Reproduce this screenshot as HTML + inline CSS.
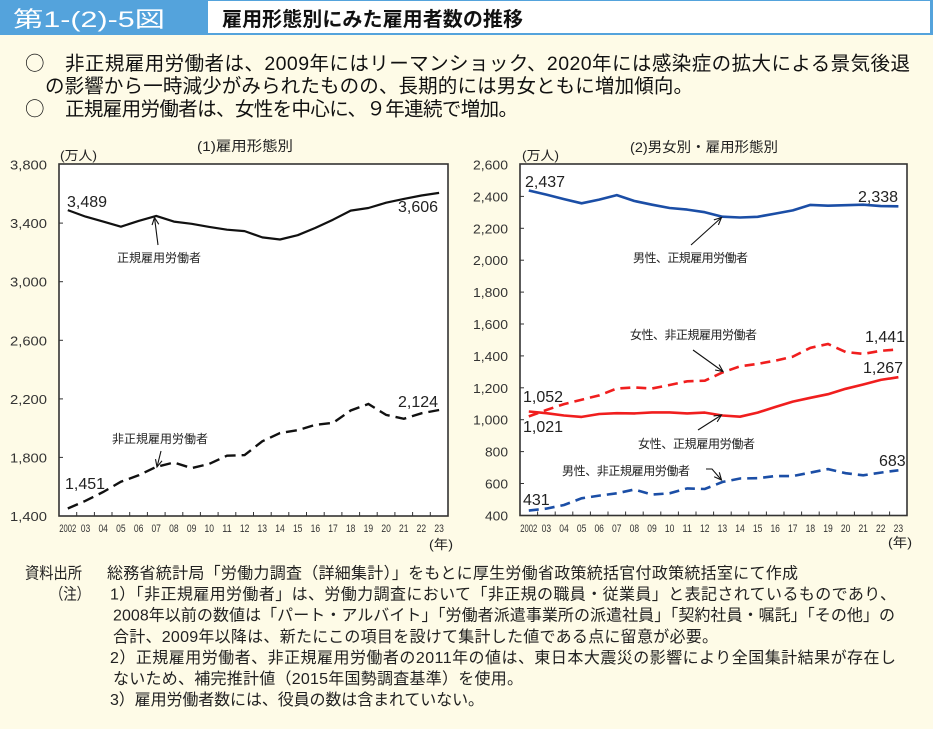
<!DOCTYPE html>
<html><head><meta charset="utf-8"><style>
html,body{margin:0;padding:0;background:#fefbe7;}
svg{display:block;}
text{font-family:"Liberation Sans","Noto Sans CJK JP",sans-serif;}
.yl{font-size:13px;fill:#333;text-anchor:end;}
.xl{font-size:11px;fill:#333;text-anchor:middle;}
.val{font-size:16px;fill:#222;}
.ann{font-size:12px;fill:#222;}
.note{font-size:16px;fill:#222;}
.bul{font-size:19.5px;fill:#111;}
</style></head><body>
<svg width="933" height="729" viewBox="0 0 933 729" xmlns="http://www.w3.org/2000/svg">
<rect x="0" y="0" width="933" height="729" fill="#fefbe7"/>
<!-- header -->
<rect x="0" y="0" width="933" height="35" fill="#54a3dc"/>
<rect x="208" y="1" width="722" height="32" fill="#ffffff"/>
<text x="13" y="27" font-size="22" fill="#ffffff" textLength="152" lengthAdjust="spacingAndGlyphs">第1-(2)-5図</text>
<text x="222" y="26" font-size="20" font-weight="bold" fill="#111" textLength="301" lengthAdjust="spacing">雇用形態別にみた雇用者数の推移</text>

<!-- bullets -->
<text x="25" y="70" class="bul" style="font-family:'Noto Sans CJK JP',sans-serif">○</text>
<text x="65" y="70" class="bul" textLength="845" lengthAdjust="spacing">非正規雇用労働者は、2009年にはリーマンショック、2020年には感染症の拡大による景気後退</text>
<text x="45" y="92.5" class="bul" textLength="648" lengthAdjust="spacing">の影響から一時減少がみられたものの、長期的には男女ともに増加傾向。</text>
<text x="25" y="115.5" class="bul" style="font-family:'Noto Sans CJK JP',sans-serif">○</text>
<text x="65" y="115.5" class="bul" textLength="453" lengthAdjust="spacing">正規雇用労働者は、女性を中心に、９年連続で増加。</text>

<!-- ================= LEFT CHART ================= -->
<text x="197" y="151" font-size="14" fill="#222" textLength="96" lengthAdjust="spacingAndGlyphs">(1)雇用形態別</text>
<text x="60" y="160" font-size="13" fill="#222" textLength="37" lengthAdjust="spacingAndGlyphs">(万人)</text>
<rect x="59" y="164" width="389" height="352" fill="#ffffff" stroke="#333" stroke-width="1.6"/>
<g class="yl">
<text x="47" y="169.5" textLength="37" lengthAdjust="spacingAndGlyphs">3,800</text>
<text x="47" y="228.1" textLength="37" lengthAdjust="spacingAndGlyphs">3,400</text>
<text x="47" y="286.7" textLength="37" lengthAdjust="spacingAndGlyphs">3,000</text>
<text x="47" y="345.3" textLength="37" lengthAdjust="spacingAndGlyphs">2,600</text>
<text x="47" y="403.9" textLength="37" lengthAdjust="spacingAndGlyphs">2,200</text>
<text x="47" y="462.4" textLength="37" lengthAdjust="spacingAndGlyphs">1,800</text>
<text x="47" y="521" textLength="37" lengthAdjust="spacingAndGlyphs">1,400</text>
</g>
<g stroke="#333" stroke-width="1">
<line x1="59" y1="223.1" x2="63" y2="223.1"/><line x1="59" y1="281.7" x2="63" y2="281.7"/>
<line x1="59" y1="340.3" x2="63" y2="340.3"/><line x1="59" y1="398.9" x2="63" y2="398.9"/>
<line x1="59" y1="457.4" x2="63" y2="457.4"/>
<line x1="76.7" y1="516" x2="76.7" y2="512"/><line x1="94.4" y1="516" x2="94.4" y2="512"/>
<line x1="112" y1="516" x2="112" y2="512"/><line x1="129.7" y1="516" x2="129.7" y2="512"/>
<line x1="147.4" y1="516" x2="147.4" y2="512"/><line x1="165.1" y1="516" x2="165.1" y2="512"/>
<line x1="182.8" y1="516" x2="182.8" y2="512"/><line x1="200.4" y1="516" x2="200.4" y2="512"/>
<line x1="218.1" y1="516" x2="218.1" y2="512"/><line x1="235.8" y1="516" x2="235.8" y2="512"/>
<line x1="253.5" y1="516" x2="253.5" y2="512"/><line x1="271.2" y1="516" x2="271.2" y2="512"/>
<line x1="288.8" y1="516" x2="288.8" y2="512"/><line x1="306.5" y1="516" x2="306.5" y2="512"/>
<line x1="324.2" y1="516" x2="324.2" y2="512"/><line x1="341.9" y1="516" x2="341.9" y2="512"/>
<line x1="359.6" y1="516" x2="359.6" y2="512"/><line x1="377.2" y1="516" x2="377.2" y2="512"/>
<line x1="394.9" y1="516" x2="394.9" y2="512"/><line x1="412.6" y1="516" x2="412.6" y2="512"/>
<line x1="430.3" y1="516" x2="430.3" y2="512"/>
</g>
<g class="xl">
<text x="67.8" y="532" textLength="17" lengthAdjust="spacingAndGlyphs">2002</text>
<text x="85.5" y="532" textLength="9.5" lengthAdjust="spacingAndGlyphs">03</text>
<text x="103.2" y="532" textLength="9.5" lengthAdjust="spacingAndGlyphs">04</text>
<text x="120.9" y="532" textLength="9.5" lengthAdjust="spacingAndGlyphs">05</text>
<text x="138.6" y="532" textLength="9.5" lengthAdjust="spacingAndGlyphs">06</text>
<text x="156.2" y="532" textLength="9.5" lengthAdjust="spacingAndGlyphs">07</text>
<text x="173.9" y="532" textLength="9.5" lengthAdjust="spacingAndGlyphs">08</text>
<text x="191.6" y="532" textLength="9.5" lengthAdjust="spacingAndGlyphs">09</text>
<text x="209.3" y="532" textLength="9.5" lengthAdjust="spacingAndGlyphs">10</text>
<text x="227" y="532" textLength="9.5" lengthAdjust="spacingAndGlyphs">11</text>
<text x="244.6" y="532" textLength="9.5" lengthAdjust="spacingAndGlyphs">12</text>
<text x="262.3" y="532" textLength="9.5" lengthAdjust="spacingAndGlyphs">13</text>
<text x="280" y="532" textLength="9.5" lengthAdjust="spacingAndGlyphs">14</text>
<text x="297.7" y="532" textLength="9.5" lengthAdjust="spacingAndGlyphs">15</text>
<text x="315.4" y="532" textLength="9.5" lengthAdjust="spacingAndGlyphs">16</text>
<text x="333" y="532" textLength="9.5" lengthAdjust="spacingAndGlyphs">17</text>
<text x="350.7" y="532" textLength="9.5" lengthAdjust="spacingAndGlyphs">18</text>
<text x="368.4" y="532" textLength="9.5" lengthAdjust="spacingAndGlyphs">19</text>
<text x="386.1" y="532" textLength="9.5" lengthAdjust="spacingAndGlyphs">20</text>
<text x="403.8" y="532" textLength="9.5" lengthAdjust="spacingAndGlyphs">21</text>
<text x="421.4" y="532" textLength="9.5" lengthAdjust="spacingAndGlyphs">22</text>
<text x="439.1" y="532" textLength="9.5" lengthAdjust="spacingAndGlyphs">23</text>
</g>
<text x="429" y="549" font-size="13" fill="#222" textLength="24" lengthAdjust="spacingAndGlyphs">(年)</text>

<polyline fill="none" stroke="#111" stroke-width="2.2" stroke-linejoin="round" points="67.8,210.1 85.5,216.6 103.2,221.6 120.9,226.7 138.6,220.9 156.2,215.9 173.9,221.6 191.6,223.8 209.3,226.9 227.0,229.7 244.6,231.1 262.3,237.4 280.0,239.5 297.7,235.2 315.4,227.9 333.0,219.7 350.7,210.6 368.4,208.0 386.1,202.7 403.8,198.9 421.4,195.5 439.1,192.9"/>
<polyline fill="none" stroke="#111" stroke-width="2.4" stroke-dasharray="11 6" points="67.8,508.5 85.5,500.8 103.2,492.0 120.9,481.7 138.6,475.3 156.2,466.9 173.9,462.5 191.6,468.1 209.3,463.9 227.0,455.7 244.6,455.1 262.3,441.3 280.0,433.0 297.7,430.2 315.4,424.8 333.0,422.9 350.7,410.5 368.4,404.0 386.1,414.9 403.8,418.8 421.4,413.3 439.1,410.0"/>

<text x="67" y="207" class="val">3,489</text>
<text x="398" y="212" class="val">3,606</text>
<text x="398" y="407" class="val">2,124</text>
<text x="65" y="489" class="val">1,451</text>
<text x="117" y="262" class="ann">正規雇用労働者</text>
<text x="112" y="443" class="ann">非正規雇用労働者</text>
<g stroke="#111" stroke-width="1.1" fill="none">
<line x1="158" y1="245" x2="154.5" y2="217.5"/>
<polyline points="152.05,225.1 154.5,217.5 158.8,224.3"/>
<line x1="161" y1="451" x2="157" y2="467"/>
<polyline points="162,460.8 157,467 155.5,459.1"/>
</g>

<!-- ================= RIGHT CHART ================= -->
<text x="630" y="152" font-size="14" fill="#222" textLength="148" lengthAdjust="spacingAndGlyphs">(2)男女別・雇用形態別</text>
<text x="522" y="160" font-size="13" fill="#222" textLength="37" lengthAdjust="spacingAndGlyphs">(万人)</text>
<rect x="520" y="164" width="387" height="351.5" fill="#ffffff" stroke="#333" stroke-width="1.6"/>
<g class="yl">
<text x="508" y="169.5" textLength="35" lengthAdjust="spacingAndGlyphs">2,600</text>
<text x="508" y="201.4" textLength="35" lengthAdjust="spacingAndGlyphs">2,400</text>
<text x="508" y="233.3" textLength="35" lengthAdjust="spacingAndGlyphs">2,200</text>
<text x="508" y="265.2" textLength="35" lengthAdjust="spacingAndGlyphs">2,000</text>
<text x="508" y="297.1" textLength="35" lengthAdjust="spacingAndGlyphs">1,800</text>
<text x="508" y="329" textLength="35" lengthAdjust="spacingAndGlyphs">1,600</text>
<text x="508" y="360.9" textLength="35" lengthAdjust="spacingAndGlyphs">1,400</text>
<text x="508" y="392.8" textLength="35" lengthAdjust="spacingAndGlyphs">1,200</text>
<text x="508" y="424.7" textLength="35" lengthAdjust="spacingAndGlyphs">1,000</text>
<text x="508" y="456.6" textLength="23" lengthAdjust="spacingAndGlyphs">800</text>
<text x="508" y="488.5" textLength="23" lengthAdjust="spacingAndGlyphs">600</text>
<text x="508" y="520.4" textLength="23" lengthAdjust="spacingAndGlyphs">400</text>
</g>
<g stroke="#333" stroke-width="1">
<line x1="520" y1="196.4" x2="524" y2="196.4"/><line x1="520" y1="228.3" x2="524" y2="228.3"/>
<line x1="520" y1="260.2" x2="524" y2="260.2"/><line x1="520" y1="292.1" x2="524" y2="292.1"/>
<line x1="520" y1="324" x2="524" y2="324"/><line x1="520" y1="355.9" x2="524" y2="355.9"/>
<line x1="520" y1="387.8" x2="524" y2="387.8"/><line x1="520" y1="419.7" x2="524" y2="419.7"/>
<line x1="520" y1="451.6" x2="524" y2="451.6"/><line x1="520" y1="483.5" x2="524" y2="483.5"/>
<line x1="537.6" y1="515.5" x2="537.6" y2="511.5"/><line x1="555.2" y1="515.5" x2="555.2" y2="511.5"/>
<line x1="572.8" y1="515.5" x2="572.8" y2="511.5"/><line x1="590.4" y1="515.5" x2="590.4" y2="511.5"/>
<line x1="608" y1="515.5" x2="608" y2="511.5"/><line x1="625.6" y1="515.5" x2="625.6" y2="511.5"/>
<line x1="643.2" y1="515.5" x2="643.2" y2="511.5"/><line x1="660.8" y1="515.5" x2="660.8" y2="511.5"/>
<line x1="678.4" y1="515.5" x2="678.4" y2="511.5"/><line x1="696" y1="515.5" x2="696" y2="511.5"/>
<line x1="713.6" y1="515.5" x2="713.6" y2="511.5"/><line x1="731.2" y1="515.5" x2="731.2" y2="511.5"/>
<line x1="748.8" y1="515.5" x2="748.8" y2="511.5"/><line x1="766.4" y1="515.5" x2="766.4" y2="511.5"/>
<line x1="784" y1="515.5" x2="784" y2="511.5"/><line x1="801.6" y1="515.5" x2="801.6" y2="511.5"/>
<line x1="819.2" y1="515.5" x2="819.2" y2="511.5"/><line x1="836.8" y1="515.5" x2="836.8" y2="511.5"/>
<line x1="854.4" y1="515.5" x2="854.4" y2="511.5"/><line x1="872" y1="515.5" x2="872" y2="511.5"/>
<line x1="889.6" y1="515.5" x2="889.6" y2="511.5"/>
</g>
<g class="xl">
<text x="528.8" y="532" textLength="17" lengthAdjust="spacingAndGlyphs">2002</text>
<text x="546.4" y="532" textLength="9.5" lengthAdjust="spacingAndGlyphs">03</text>
<text x="564" y="532" textLength="9.5" lengthAdjust="spacingAndGlyphs">04</text>
<text x="581.6" y="532" textLength="9.5" lengthAdjust="spacingAndGlyphs">05</text>
<text x="599.2" y="532" textLength="9.5" lengthAdjust="spacingAndGlyphs">06</text>
<text x="616.8" y="532" textLength="9.5" lengthAdjust="spacingAndGlyphs">07</text>
<text x="634.4" y="532" textLength="9.5" lengthAdjust="spacingAndGlyphs">08</text>
<text x="652" y="532" textLength="9.5" lengthAdjust="spacingAndGlyphs">09</text>
<text x="669.6" y="532" textLength="9.5" lengthAdjust="spacingAndGlyphs">10</text>
<text x="687.2" y="532" textLength="9.5" lengthAdjust="spacingAndGlyphs">11</text>
<text x="704.8" y="532" textLength="9.5" lengthAdjust="spacingAndGlyphs">12</text>
<text x="722.4" y="532" textLength="9.5" lengthAdjust="spacingAndGlyphs">13</text>
<text x="740" y="532" textLength="9.5" lengthAdjust="spacingAndGlyphs">14</text>
<text x="757.6" y="532" textLength="9.5" lengthAdjust="spacingAndGlyphs">15</text>
<text x="775.2" y="532" textLength="9.5" lengthAdjust="spacingAndGlyphs">16</text>
<text x="792.8" y="532" textLength="9.5" lengthAdjust="spacingAndGlyphs">17</text>
<text x="810.4" y="532" textLength="9.5" lengthAdjust="spacingAndGlyphs">18</text>
<text x="828" y="532" textLength="9.5" lengthAdjust="spacingAndGlyphs">19</text>
<text x="845.6" y="532" textLength="9.5" lengthAdjust="spacingAndGlyphs">20</text>
<text x="863.2" y="532" textLength="9.5" lengthAdjust="spacingAndGlyphs">21</text>
<text x="880.8" y="532" textLength="9.5" lengthAdjust="spacingAndGlyphs">22</text>
<text x="898.4" y="532" textLength="9.5" lengthAdjust="spacingAndGlyphs">23</text>
</g>
<text x="888" y="547" font-size="13" fill="#222" textLength="24" lengthAdjust="spacingAndGlyphs">(年)</text>

<polyline fill="none" stroke="#1b4ea6" stroke-width="2.6" stroke-linejoin="round" points="528.8,190.5 546.4,194.6 564.0,199.1 581.6,203.3 599.2,199.6 616.8,195.1 634.4,201.0 652.0,204.7 669.6,208.0 687.2,209.6 704.8,212.2 722.4,216.7 740.0,217.5 757.6,216.8 775.2,213.6 792.8,210.4 810.4,204.9 828.0,205.7 845.6,205.2 863.2,204.7 880.8,206.1 898.4,206.3"/>
<polyline fill="none" stroke="#f01e1e" stroke-width="2.6" stroke-dasharray="10 6" points="528.8,416.4 546.4,410.0 564.0,404.1 581.6,399.7 599.2,395.4 616.8,388.5 634.4,387.5 652.0,388.5 669.6,385.0 687.2,381.3 704.8,380.7 722.4,372.5 740.0,366.3 757.6,363.9 775.2,360.7 792.8,356.7 810.4,347.8 828.0,344.0 845.6,352.0 863.2,353.9 880.8,350.8 898.4,349.4"/>
<polyline fill="none" stroke="#f01e1e" stroke-width="2.6" stroke-linejoin="round" points="528.8,411.5 546.4,413.2 564.0,415.5 581.6,416.9 599.2,414.0 616.8,413.2 634.4,413.4 652.0,412.4 669.6,412.4 687.2,413.4 704.8,412.6 722.4,415.5 740.0,416.7 757.6,412.6 775.2,407.0 792.8,401.6 810.4,397.8 828.0,394.2 845.6,388.8 863.2,384.5 880.8,379.9 898.4,377.2"/>
<polyline fill="none" stroke="#1b4ea6" stroke-width="2.6" stroke-dasharray="10 6" points="528.8,510.6 546.4,508.6 564.0,505.0 581.6,498.3 599.2,495.6 616.8,493.3 634.4,489.5 652.0,494.6 669.6,493.3 687.2,488.4 704.8,489.0 722.4,482.0 740.0,478.5 757.6,478.2 775.2,476.1 792.8,476.1 810.4,472.6 828.0,469.1 845.6,473.2 863.2,475.3 880.8,472.6 898.4,470.3"/>

<text x="525" y="187" class="val">2,437</text>
<text x="858" y="202" class="val">2,338</text>
<text x="865" y="342" class="val">1,441</text>
<text x="863" y="373" class="val">1,267</text>
<text x="523" y="402" class="val">1,052</text>
<text x="523" y="432" class="val">1,021</text>
<text x="879" y="466" class="val">683</text>
<text x="523" y="505" class="val">431</text>
<text x="633" y="262" class="ann" textLength="115" lengthAdjust="spacing">男性、正規雇用労働者</text>
<text x="630" y="339" class="ann" textLength="127" lengthAdjust="spacing">女性、非正規雇用労働者</text>
<text x="638" y="448" class="ann" textLength="117" lengthAdjust="spacing">女性、正規雇用労働者</text>
<text x="562" y="475" class="ann" textLength="128" lengthAdjust="spacing">男性、非正規雇用労働者</text>
<g stroke="#111" stroke-width="1.1" fill="none">
<line x1="691" y1="245" x2="721.5" y2="217.5"/>
<polyline points="713.85,219.84 721.5,217.5 718.4,224.9"/>
<line x1="693" y1="350" x2="723" y2="371.5"/>
<polyline points="719.1,364.5 723,371.5 715.1,370"/>
<line x1="698" y1="430" x2="721.5" y2="415"/>
<polyline points="713.6,416 721.5,415 717.2,421.8"/>
<polyline points="706,469 712,469 721.5,480"/>
<polyline points="719.3,472.3 721.5,480 714.2,476.7"/>
</g>

<!-- ================= NOTES ================= -->
<text x="25" y="578.5" class="note" textLength="57" lengthAdjust="spacingAndGlyphs">資料出所</text>
<text x="107" y="578.5" class="note" textLength="691" lengthAdjust="spacing">総務省統計局「労働力調査（詳細集計）」をもとに厚生労働省政策統括官付政策統括室にて作成</text>
<text x="50" y="599.6" class="note" textLength="40" lengthAdjust="spacingAndGlyphs">（注）</text>
<text x="110" y="599.6" class="note" textLength="786" lengthAdjust="spacing">1）「非正規雇用労働者」は、労働力調査において「非正規の職員・従業員」と表記されているものであり、</text>
<text x="113" y="620.7" class="note" textLength="782" lengthAdjust="spacing">2008年以前の数値は「パート・アルバイト」「労働者派遣事業所の派遣社員」「契約社員・嘱託」「その他」の</text>
<text x="113" y="641.8" class="note" textLength="605" lengthAdjust="spacing">合計、2009年以降は、新たにこの項目を設けて集計した値である点に留意が必要。</text>
<text x="110" y="662.9" class="note" textLength="786" lengthAdjust="spacing">2）正規雇用労働者、非正規雇用労働者の2011年の値は、東日本大震災の影響により全国集計結果が存在し</text>
<text x="113" y="684" class="note" textLength="410" lengthAdjust="spacing">ないため、補完推計値（2015年国勢調査基準）を使用。</text>
<text x="110" y="705.1" class="note" textLength="374" lengthAdjust="spacing">3）雇用労働者数には、役員の数は含まれていない。</text>
</svg>
</body></html>
